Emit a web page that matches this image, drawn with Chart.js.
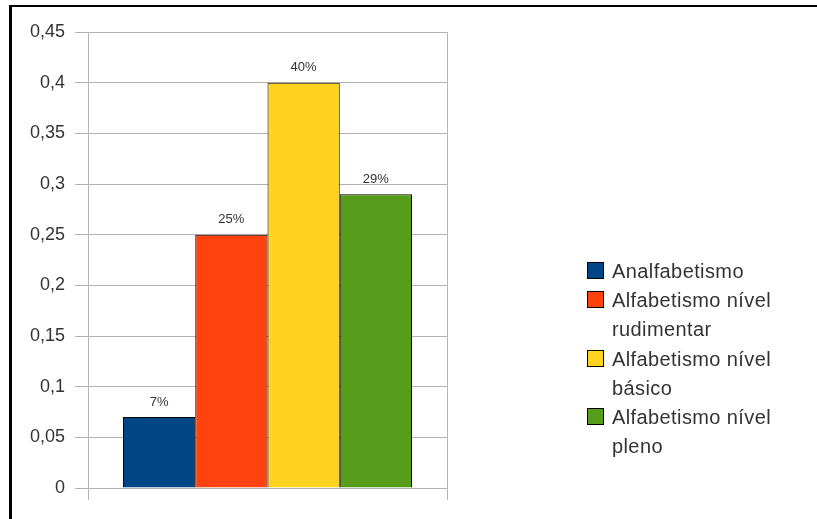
<!DOCTYPE html>
<html>
<head>
<meta charset="utf-8">
<title>Alfabetismo</title>
<script src="https://cdn.jsdelivr.net/npm/chart.js@4/dist/chart.umd.min.js"></script>
<style>
  html, body { margin: 0; padding: 0; background: #fff; overflow: hidden; }
  #wrap { position: relative; width: 817px; height: 519px; }
  #chart { position: absolute; left: 0; top: 0; }
  #frame {
    position: absolute; left: 9px; top: 5px; width: 900px; height: 600px;
    border-top: 2px solid #000; border-left: 3px solid #000; pointer-events: none;
  }
  #legend {
    position: absolute; left: 587px; top: 257px; margin: 0; padding: 0; list-style: none;
    font: 20px 'Liberation Sans', Arial, sans-serif; letter-spacing: 0.4px; color: #333;
  }
  #legend li { display: flex; align-items: flex-start; line-height: 29.2px; }
  #legend .box {
    width: 17px; height: 17px; box-sizing: border-box; border: 1px solid #000;
    margin: 5px 8px 0 0; flex: none;
  }
  #legend .text { width: 175px; }
</style>
</head>
<body>
<div id="wrap">
  <canvas id="chart" width="817" height="519"></canvas>
  <ul id="legend"></ul>
  <div id="frame"></div>
</div>
<script>
// data
const categories = [''];
const seriesNames = [
  'Analfabetismo',
  'Alfabetismo nível rudimentar',
  'Alfabetismo nível básico',
  'Alfabetismo nível pleno'
];
const seriesValues = [0.07, 0.25, 0.40, 0.29];
const seriesColors = ['#004586', '#ff420e', '#ffd320', '#579d1c'];
const yMax = 0.45;
const yStep = 0.05;

const FONT = "'Liberation Sans', Arial, sans-serif";

// percentage labels above each bar
const barLabels = {
    id: 'barLabels',
    afterDatasetsDraw(chart) {
        const ctx = chart.ctx;
        ctx.save();
        ctx.font = '13px ' + FONT;
        ctx.fillStyle = '#333';
        ctx.textAlign = 'center';
        ctx.textBaseline = 'middle';
        chart.data.datasets.forEach((ds, i) => {
            chart.getDatasetMeta(i).data.forEach((bar, j) => {
                ctx.fillText(Math.round(ds.data[j] * 100) + '%', bar.x, bar.y - 15);
            });
        });
        ctx.restore();
    }
};

// legend drawn as html so the long labels can wrap
const htmlLegend = {
    id: 'htmlLegend',
    afterUpdate(chart) {
        const ul = document.getElementById('legend');
        ul.innerHTML = '';
        const items = chart.options.plugins.legend.labels.generateLabels(chart);
        items.forEach(item => {
            const li = document.createElement('li');
            const box = document.createElement('span');
            box.className = 'box';
            box.style.background = item.fillStyle;
            const text = document.createElement('span');
            text.className = 'text';
            text.textContent = item.text;
            li.appendChild(box);
            li.appendChild(text);
            ul.appendChild(li);
        });
    }
};

new Chart(document.getElementById('chart'), {
    type: 'bar',
    data: {
        labels: categories,
        datasets: seriesNames.map((name, i) => ({
            label: name,
            data: [seriesValues[i]],
            backgroundColor: seriesColors[i],
            borderColor: '#000',
            borderWidth: 1
        }))
    },
    options: {
        responsive: false,
        animation: false,
        barPercentage: 1,
        categoryPercentage: 0.805,
        layout: { padding: { left: 0, top: 32, right: 370, bottom: 19 } },
        scales: {
            x: {
                grid: { color: '#b3b3b3', tickLength: 12 },
                border: { color: '#b3b3b3' },
                ticks: { display: false }
            },
            y: {
                min: 0,
                max: yMax,
                afterFit: (scale) => { scale.width = 88; },
                grid: { color: '#b3b3b3', tickLength: 13 },
                border: { color: '#b3b3b3' },
                ticks: {
                    stepSize: yStep,
                    padding: 10,
                    color: '#333',
                    font: { family: FONT, size: 18 },
                    callback: (v) => String(+v.toFixed(2)).replace('.', ',')
                }
            }
        },
        plugins: {
            legend: { display: false },
            tooltip: { enabled: false }
        }
    },
    plugins: [barLabels, htmlLegend]
});
</script>
</body>
</html>
